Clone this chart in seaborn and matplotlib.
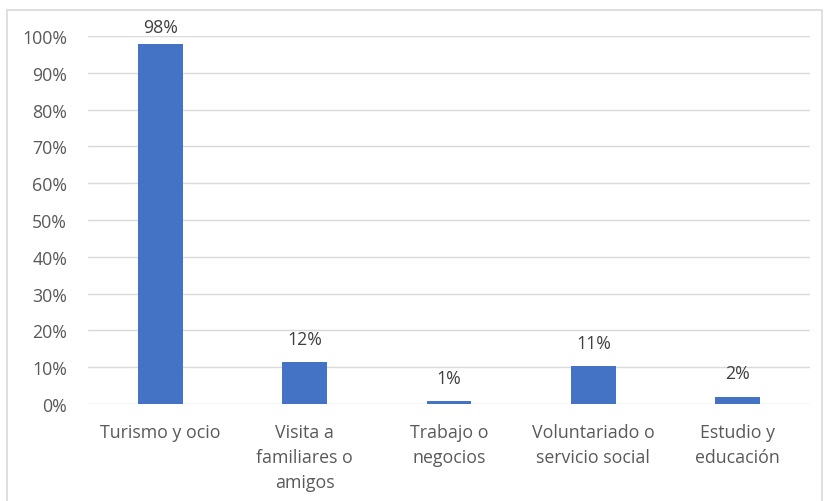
import matplotlib
matplotlib.use("Agg")
import matplotlib.pyplot as plt
import seaborn as sns
import pandas as pd
from matplotlib.patches import Rectangle

categories = ["Turismo y ocio", "Visita a\nfamiliares o\namigos", "Trabajo o\nnegocios",
              "Voluntariado o\nservicio social", "Estudio y\neducación"]
values = [97.8, 11.4, 0.8, 10.3, 2.0]
labels = ["98%", "12%", "1%", "11%", "2%"]
yticks = [0, 10, 20, 30, 40, 50, 60, 70, 80, 90, 100]

sns.set_theme(style="white")
plt.rcParams['font.family'] = ['Open Sans', 'DejaVu Sans']

df = pd.DataFrame({"cat": categories, "val": values})

fig = plt.figure(figsize=(8.25, 5.02), dpi=100)
ax = fig.add_axes([88/825, 1-405/502, (810-88)/825, (405-37)/502])
sns.barplot(data=df, x="cat", y="val", color="#4472C4", saturation=1, width=0.31,
            linewidth=0, ax=ax, zorder=3)

ax.set_ylim(0, 100)
ax.set_xlim(-0.5, len(categories)-0.5)
ax.set_yticks(yticks)
ax.set_yticklabels([f"{t}%" for t in yticks], fontsize=12.8, color="#595959")
ax.tick_params(axis="x", labelsize=12.8, labelcolor="#595959", length=0, pad=14)
ax.tick_params(axis="y", length=0, pad=15)
for t in ax.get_xticklabels():
    t.set_linespacing(1.5)
ax.set_xlabel("")
ax.set_ylabel("")
ax.yaxis.grid(True, color="#D9D9D9", linewidth=1, zorder=0)
for s in ax.spines.values():
    s.set_visible(False)

for i, (v, lab) in enumerate(zip(values, labels)):
    ax.text(i, min(v + 6.3, 102.4), lab, ha="center", va="center",
            fontsize=12.8, color="#404040", clip_on=False)

fig.patches.append(Rectangle((7/825, -0.1), (822-7)/825, 1-11/502+0.1,
                             transform=fig.transFigure, fill=False,
                             edgecolor="#D9D9D9", linewidth=1.2))
fig.savefig("out.png", dpi=100)
